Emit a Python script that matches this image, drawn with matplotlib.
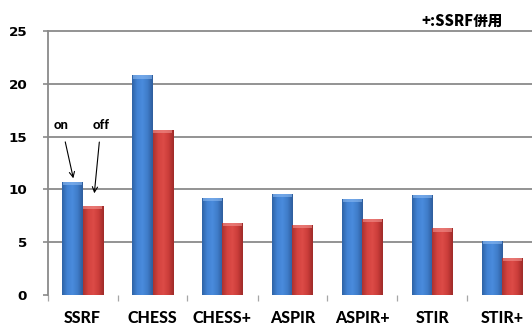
import numpy as np
import matplotlib.pyplot as plt
from matplotlib.colors import LinearSegmentedColormap
from matplotlib.patches import Rectangle

methods = ["SSRF", "CHESS", "CHESS+", "ASPIR", "ASPIR+", "STIR", "STIR+"]
on_vals = [10.7, 20.8, 9.2, 9.6, 9.1, 9.5, 5.1]
off_vals = [8.4, 15.6, 6.8, 6.6, 7.2, 6.3, 3.5]
yticks = [0, 5, 10, 15, 20, 25]

label_font = ["Lato", "DejaVu Sans"]
grey = "#8a8a8a"

fig = plt.figure(figsize=(5.32, 3.31), dpi=100)
ax = fig.add_axes([47.5 / 532, 36 / 331, 490 / 532, 264 / 331])

blue_cmap = LinearSegmentedColormap.from_list(
    "bluebar", ["#2f63a6", "#4283d4", "#4a8bdc", "#3f7cc8", "#2e5d9c"])
red_cmap = LinearSegmentedColormap.from_list(
    "redbar", ["#aa3230", "#d4433f", "#dc4b47", "#cb3d3a", "#9e2b29"])
grad = np.linspace(0, 1, 64).reshape(1, -1)


def shaded_bar(x, h, w, cmap, cap):
    # horizontal shading clipped to the bar, plus a lighter rim on top
    rect = Rectangle((x - w / 2, 0), w, h, facecolor="none",
                     edgecolor="none")
    ax.add_patch(rect)
    im = ax.imshow(grad, cmap=cmap, extent=(x - w / 2, x + w / 2, 0, h),
                   aspect="auto", zorder=2)
    im.set_clip_path(rect)
    ax.add_patch(Rectangle((x - w / 2 + 0.01, h - 0.3), w - 0.02, 0.3,
                           facecolor=cap, edgecolor="none", zorder=3,
                           alpha=0.6))


x = np.arange(len(methods))
w = 0.286
for i in range(len(methods)):
    shaded_bar(x[i] - w / 2, on_vals[i], w, blue_cmap, "#8cbaf2")
    shaded_bar(x[i] + w / 2, off_vals[i], w, red_cmap, "#f29490")

ax.set_xlim(-0.5, len(methods) - 0.5)
ax.set_ylim(0, 25)

# horizontal grid (none at zero)
for v in yticks[1:]:
    ax.axhline(v, color=grey, lw=1.3, zorder=1, clip_on=False)

ax.set_yticks(yticks)
ax.set_yticklabels([str(v) for v in yticks], fontsize=9.7,
                   fontweight="bold", family="DejaVu Sans")
ax.tick_params(axis="y", length=3.6, width=1.2, color=grey, pad=11)

ax.set_xticks(x)
ax.set_xticklabels(methods, fontsize=11.5, fontweight="black",
                   family=label_font)
ax.set_xticks(np.arange(len(methods) + 1) - 0.5, minor=True)
ax.tick_params(axis="x", which="major", length=0, pad=11)
ax.tick_params(axis="x", which="minor", length=4.3, width=0.9,
               color="#a6a6a6")

for s in ["top", "right", "bottom"]:
    ax.spines[s].set_visible(False)
ax.spines["left"].set_color(grey)
ax.spines["left"].set_linewidth(1.3)

# on / off pointers on the SSRF pair
ax.annotate("on", xy=(-0.131, 11.05), xytext=(-0.30, 16.1),
            ha="center", va="center", fontsize=9.4, fontweight="black",
            family=label_font,
            arrowprops=dict(arrowstyle="->", lw=0.8, color="black",
                            shrinkA=6, shrinkB=0))
ax.annotate("off", xy=(0.169, 9.63), xytext=(0.264, 16.1),
            ha="center", va="center", fontsize=9.4, fontweight="black",
            family=label_font,
            arrowprops=dict(arrowstyle="->", lw=0.8, color="black",
                            shrinkA=6, shrinkB=0))

fig.text(503 / 532, 1 - 21 / 331, "+:SSRF併用", ha="right", va="center",
         fontsize=10.5, fontweight="heavy",
         family=["Noto Sans CJK JP", "DejaVu Sans"])

fig.savefig("out.png", dpi=100)
